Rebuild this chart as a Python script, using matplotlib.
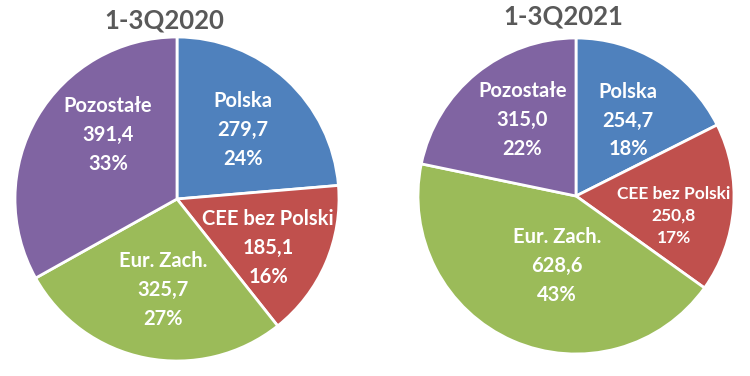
import matplotlib
matplotlib.use("Agg")
import matplotlib.pyplot as plt
import numpy as np

plt.rcParams['font.family'] = ['Lato', 'DejaVu Sans']

names = ['Polska', 'CEE bez Polski', 'Eur. Zach.', 'Pozostałe']
colors = ['#4F81BD', '#C0504D', '#9BBB59', '#8064A2']

vals_2020 = [279.7, 185.1, 325.7, 391.4]
pct_2020 = ['24%', '16%', '27%', '33%']
vals_2021 = [254.7, 250.8, 628.6, 315.0]
pct_2021 = ['18%', '17%', '43%', '22%']

W, H = 750, 376
fig = plt.figure(figsize=(7.5, 3.76), dpi=100)


def draw(cx, cy, r, vals, pcts, title, tx, ty, dists, shifts, sizes, spacing):
    ax = fig.add_axes([(cx - r) / W, (H - cy - r) / H, 2 * r / W, 2 * r / H])
    labels = [f"{n}\n{str(v).replace('.', ',')}\n{p}" for n, v, p in zip(names, vals, pcts)]
    wedges, texts = ax.pie(vals, colors=colors, startangle=90, counterclock=False,
                           labels=labels, labeldistance=0.6,
                           wedgeprops=dict(edgecolor='white', linewidth=2))
    for t, d, sh, s, ls in zip(texts, dists, shifts, sizes, spacing):
        x, y = t.get_position()
        a = np.arctan2(y, x) + np.radians(sh)
        t.set_position((d * np.cos(a), d * np.sin(a)))
        t.set_ha('center')
        t.set_va('center')
        t.set_color('white')
        t.set_fontweight('bold')
        t.set_fontsize(s)
        t.set_linespacing(ls)
    ax.set_xlim(-1, 1)
    ax.set_ylim(-1, 1)
    ax.set_aspect('equal')
    ax.axis('off')
    fig.text(tx / W, 1 - ty / H, title, ha='center', va='center',
             fontsize=18.5, fontweight='bold', color='#595959')


draw(177, 199, 162, vals_2020, pct_2020, '1-3Q2020', 164, 20,
     [0.59, 0.64, 0.57, 0.58], [-1, -5, 2.5, -12.5],
     [14.5, 14.5, 14.5, 14.5], [1.55] * 4)
draw(576, 196, 158, vals_2021, pct_2021, '1-3Q2021', 563, 16,
     [0.58, 0.63, 0.46, 0.59], [-3, -7, 8.5, -4],
     [14.5, 12.5, 14.5, 14.5], [1.55, 1.45, 1.55, 1.55])

fig.savefig('out.png', dpi=100)
